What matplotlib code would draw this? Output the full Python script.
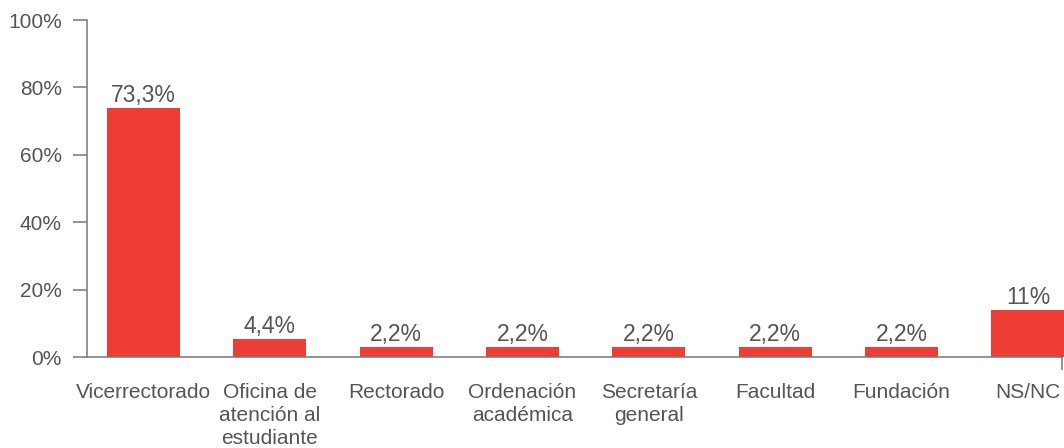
import matplotlib.pyplot as plt

categories = ["Vicerrectorado", "Oficina de\natención al\nestudiante", "Rectorado",
              "Ordenación\nacadémica", "Secretaría\ngeneral", "Facultad",
              "Fundación", "NS/NC"]
# bar heights as drawn in the picture (percent)
heights = [73.9, 5.3, 3.0, 3.0, 3.0, 3.0, 3.0, 13.9]
value_labels = ["73,3%", "4,4%", "2,2%", "2,2%", "2,2%", "2,2%", "2,2%", "11%"]
yticks = [0, 20, 40, 60, 80, 100]

bar_color = "#EE3D35"
text_color = "#555555"
axis_color = "#777777"

plt.rcParams['font.family'] = ['Liberation Sans', 'DejaVu Sans']
plt.rcParams['font.size'] = 15

fig = plt.figure(figsize=(10.64, 4.48), dpi=100)
ax = fig.add_axes([87 / 1064, 91 / 448, 975 / 1064, 337 / 448])

x = list(range(len(categories)))
bars = ax.bar(x, heights, width=0.578, color=bar_color, clip_on=False, zorder=3)

for rect, lab in zip(bars, value_labels):
    ax.annotate(lab, (rect.get_x() + rect.get_width() / 2, rect.get_height()),
                xytext=(0, 0.5), textcoords="offset points",
                ha="center", va="bottom", color=text_color, fontsize=16.5)

ax.set_xlim(-0.447, 7.27)
ax.set_ylim(0, 100)

ax.set_yticks(yticks)
ax.set_yticklabels([f"{t}%" for t in yticks])
ax.set_xticks(x)
ax.set_xticklabels(categories, linespacing=1.25)
ax.set_xticks([7.27], minor=True)

ax.tick_params(axis="y", length=10, width=1.1, color=axis_color,
               labelcolor=text_color, pad=8, labelsize=15)
ax.tick_params(axis="x", which="major", length=0, pad=19,
               labelcolor=text_color, labelsize=15)
ax.tick_params(axis="x", which="minor", length=9.5, width=1.1, color=axis_color)

for side in ["top", "right"]:
    ax.spines[side].set_visible(False)
for side in ["left", "bottom"]:
    ax.spines[side].set_color(axis_color)
    ax.spines[side].set_linewidth(1.1)
ax.spines["bottom"].set_zorder(4)

fig.savefig("out.png", dpi=100)
